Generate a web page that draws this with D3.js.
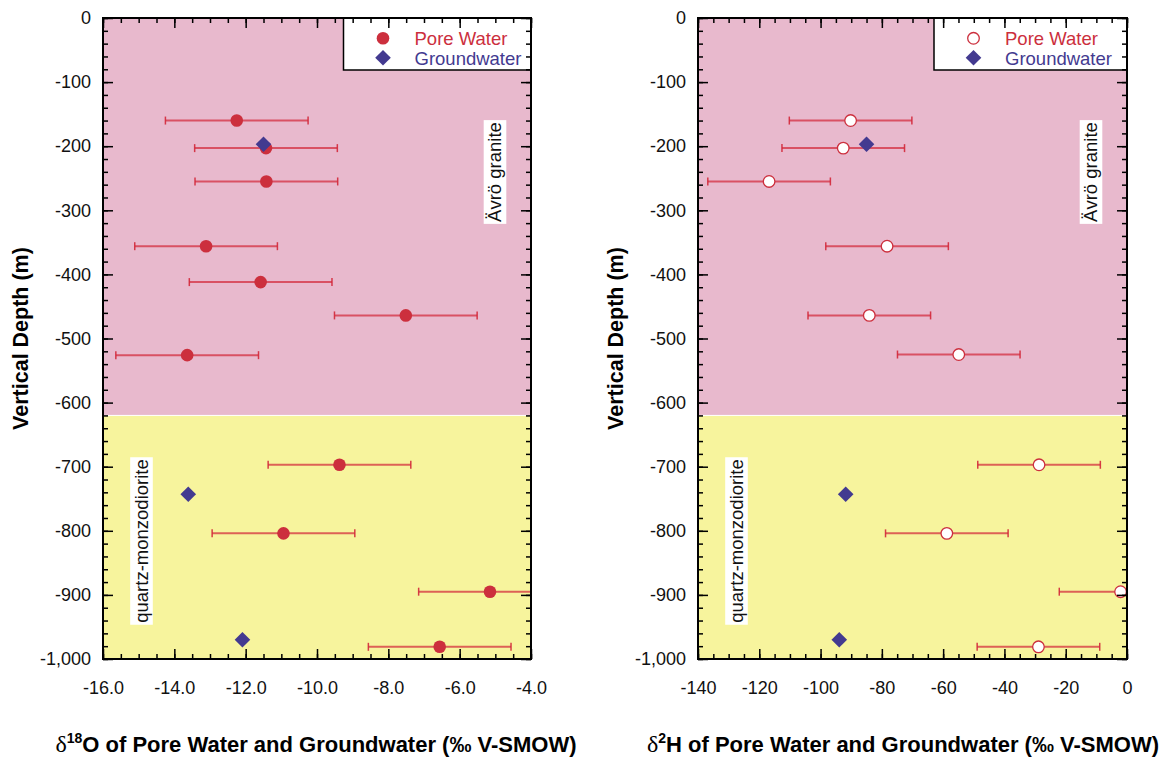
<!DOCTYPE html>
<html>
<head>
<meta charset="utf-8">
<script src="https://cdn.jsdelivr.net/npm/d3@7"></script>
<style>
  html, body { margin: 0; padding: 0; background: #fff; }
  svg { display: block; font-family: "Liberation Sans", Arial, Helvetica, sans-serif; }
</style>
</head>
<body>
<svg id="chart" width="1164" height="758"></svg>
<script>
// ---- data -------------------------------------------------------------
// Pore water, δ18O (‰ V-SMOW), depth in metres
const poreDepthO = [-160, -203, -255, -356, -412, -464, -526, -697, -804, -895, -981];
const poreO      = [-12.25, -11.43, -11.42, -13.11, -11.58, -7.51, -13.64, -9.37, -10.94, -5.15, -6.56];
const poreErrO   = 2.0;

// Pore water, δ2H (‰ V-SMOW)
const poreDepthH = [-160, -203, -255, -356, -464, -525, -697, -804, -895, -981];
const poreH      = [-90.2, -92.6, -116.8, -78.3, -84.1, -54.9, -28.7, -58.8, -2.1, -28.9];
const poreErrH   = 20;

// Groundwater
const gwDepth = [-197, -743, -970];
const gwO     = [-11.5, -13.61, -12.09];
const gwH     = [-85, -91.8, -93.9];

// Rock units
const zoneNames  = ["Ävrö granite", "quartz-monzodiorite"];
const zoneTop    = [0, -620];
const zoneBottom = [-620, -1000];

// Axis ticks
const depthTicks      = [0, -100, -200, -300, -400, -500, -600, -700, -800, -900, -1000];
const depthMinorTicks = d3.range(0, -1001, -20);
const oTicks      = [-16, -14, -12, -10, -8, -6, -4];
const oMinorTicks = d3.range(-16, -3.99, 0.5);
const hTicks      = [-140, -120, -100, -80, -60, -40, -20, 0];
const hMinorTicks = d3.range(-140, 0.01, 5);

const legendLabels = ["Pore Water", "Groundwater"];

// ---- styles -----------------------------------------------------------
const PINK = "#e8b9cd", YELLOW = "#f7f49d";
const RED = "#cc2f3d", BLUE = "#433a90";
const zoneColors = [PINK, YELLOW];
const FONT = "Liberation Sans, Arial, Helvetica, sans-serif";

const loc = d3.formatLocale({decimal: ".", thousands: ",", grouping: [3], currency: ["", ""], minus: "-"});
const fmtDepth = loc.format(",");

const svg = d3.select("#chart");
const plotTop = 18, plotBottom = 659;
const y = d3.scaleLinear().domain([-1000, 0]).range([plotBottom, plotTop]);

function panel(opts) {
  const x = d3.scaleLinear().domain(opts.domain).range([opts.left, opts.right]);
  const g = svg.append("g");
  const id = "clip" + opts.key;

  g.append("clipPath").attr("id", id).append("rect")
    .attr("x", opts.left).attr("y", plotTop)
    .attr("width", opts.right - opts.left).attr("height", plotBottom - plotTop);

  // rock unit bands
  zoneNames.forEach((n, i) => {
    g.append("rect")
      .attr("x", opts.left).attr("width", opts.right - opts.left)
      .attr("y", y(zoneTop[i])).attr("height", y(zoneBottom[i]) - y(zoneTop[i]))
      .attr("fill", zoneColors[i]);
  });
  g.append("line")
    .attr("x1", opts.left).attr("x2", opts.right)
    .attr("y1", y(zoneTop[1])).attr("y2", y(zoneTop[1]))
    .attr("stroke", "#fff").attr("stroke-width", 1);

  // rock unit labels (rotated, on white boxes)
  const labelPos = [
    {cx: opts.right - 36, cy: 172},
    {cx: opts.left + 38.5, cy: 541}
  ];
  zoneNames.forEach((n, i) => {
    const lg = g.append("g")
      .attr("transform", `translate(${labelPos[i].cx},${labelPos[i].cy}) rotate(-90)`);
    const box = lg.append("rect").attr("fill", "#fff");
    const t = lg.append("text")
      .attr("text-anchor", "middle").attr("dy", "0.35em")
      .attr("font-size", 18.5).attr("fill", "#111").text(n);
    const bb = t.node().getBBox();
    box.attr("x", bb.x - 2).attr("y", -11.3).attr("width", bb.width + 4).attr("height", 22.6);
  });

  // error bars
  const eb = g.append("g").attr("clip-path", `url(#${id})`)
    .attr("stroke", "#d3283a").attr("stroke-opacity", 0.72);
  opts.poreVal.forEach((v, i) => {
    const yy = y(opts.poreDepth[i]);
    eb.append("line")
      .attr("x1", x(v - opts.err)).attr("x2", x(v + opts.err))
      .attr("y1", yy).attr("y2", yy).attr("stroke-width", 2);
    [v - opts.err, v + opts.err].forEach(e => {
      eb.append("line")
        .attr("x1", x(e)).attr("x2", x(e))
        .attr("y1", yy - 4).attr("y2", yy + 4)
        .attr("stroke-width", 1.5).attr("stroke-opacity", 0.9);
    });
  });

  // pore water markers
  g.append("g").selectAll("circle")
    .data(opts.poreVal.map((v, i) => [v, opts.poreDepth[i]]))
    .join("circle")
    .attr("cx", d => x(d[0])).attr("cy", d => y(d[1]))
    .attr("r", opts.open ? 5.8 : 6.3)
    .attr("fill", opts.open ? "#fff" : RED)
    .attr("stroke", RED).attr("stroke-width", opts.open ? 1.3 : 0);

  // groundwater markers
  const diamond = d3.symbol().type(d3.symbolDiamond2).size(155);
  g.append("g").selectAll("path")
    .data(opts.gwVal.map((v, i) => [v, gwDepth[i]]))
    .join("path")
    .attr("d", diamond)
    .attr("transform", d => `translate(${x(d[0])},${y(d[1])})`)
    .attr("fill", BLUE);

  // legend
  const lx = opts.legendLeft;
  const leg = g.append("g");
  leg.append("rect")
    .attr("x", lx).attr("y", plotTop).attr("width", opts.right - lx).attr("height", 52)
    .attr("fill", "#fff").attr("stroke", "#000").attr("stroke-width", 1.5);
  leg.append("circle")
    .attr("cx", lx + 39.5).attr("cy", 38.3)
    .attr("r", opts.open ? 5.8 : 6.3)
    .attr("fill", opts.open ? "#fff" : RED)
    .attr("stroke", RED).attr("stroke-width", opts.open ? 1.3 : 0);
  leg.append("path").attr("d", diamond)
    .attr("transform", `translate(${lx + 39.5},57.7)`).attr("fill", BLUE);
  leg.append("text").attr("x", lx + 71).attr("y", 44.8)
    .attr("font-size", 18.5).attr("fill", RED).text(legendLabels[0]);
  leg.append("text").attr("x", lx + 71).attr("y", 64.5)
    .attr("font-size", 18.5).attr("fill", BLUE).text(legendLabels[1]);

  // axes: ticks point inward on all four sides
  const axG = g.append("g");
  axG.append("g").attr("transform", `translate(${opts.left},0)`)
    .call(d3.axisLeft(y).tickValues(depthTicks).tickFormat(fmtDepth)
      .tickSizeInner(-10).tickSizeOuter(0).tickPadding(12));
  axG.append("g").attr("transform", `translate(${opts.left},0)`)
    .call(d3.axisLeft(y).tickValues(depthMinorTicks).tickFormat("")
      .tickSizeInner(-5).tickSizeOuter(0));
  axG.append("g").attr("transform", `translate(${opts.right},0)`)
    .call(d3.axisRight(y).tickValues(depthTicks).tickFormat("")
      .tickSizeInner(-10).tickSizeOuter(0));
  axG.append("g").attr("transform", `translate(${opts.right},0)`)
    .call(d3.axisRight(y).tickValues(depthMinorTicks).tickFormat("")
      .tickSizeInner(-5).tickSizeOuter(0));
  axG.append("g").attr("transform", `translate(0,${plotBottom})`)
    .call(d3.axisBottom(x).tickValues(opts.ticks).tickFormat(opts.fmt)
      .tickSizeInner(-10).tickSizeOuter(0).tickPadding(22));
  axG.append("g").attr("transform", `translate(0,${plotBottom})`)
    .call(d3.axisBottom(x).tickValues(opts.minor).tickFormat("")
      .tickSizeInner(-5).tickSizeOuter(0));
  axG.append("g").attr("transform", `translate(0,${plotTop})`)
    .call(d3.axisTop(x).tickValues(opts.ticks).tickFormat("")
      .tickSizeInner(-10).tickSizeOuter(0));
  axG.append("g").attr("transform", `translate(0,${plotTop})`)
    .call(d3.axisTop(x).tickValues(opts.minor).tickFormat("")
      .tickSizeInner(-5).tickSizeOuter(0));
  axG.selectAll(":scope > g").attr("font-size", 18).attr("font-family", FONT);
  axG.selectAll(".domain").remove();
  axG.selectAll(".tick line").attr("stroke", "#000").attr("stroke-width", 1.5);
  axG.selectAll(".tick text").attr("fill", "#111");

  g.append("rect")
    .attr("x", opts.left).attr("y", plotTop)
    .attr("width", opts.right - opts.left).attr("height", plotBottom - plotTop)
    .attr("fill", "none").attr("stroke", "#000").attr("stroke-width", 2);

  // axis titles
  svg.append("text")
    .attr("transform", `translate(${opts.left - 75.5},${(plotTop + plotBottom) / 2}) rotate(-90)`)
    .attr("text-anchor", "middle").attr("font-size", 21.5).attr("font-weight", "bold")
    .attr("fill", "#000").text("Vertical Depth (m)");

  const xt = svg.append("text")
    .attr("x", opts.titleX).attr("y", 752)
    .attr("text-anchor", "middle").attr("font-size", 22).attr("font-weight", "bold")
    .attr("fill", "#000");
  xt.append("tspan").attr("font-family", "Liberation Serif, Times New Roman, serif")
    .attr("font-weight", "normal").attr("font-size", 24).text("δ");
  xt.append("tspan").attr("font-size", 14).attr("dy", -9).text(opts.iso);
  xt.append("tspan").attr("dy", 9).text(opts.titleRest);
}

panel({
  key: "O", left: 103, right: 531, domain: [-16, -4],
  ticks: oTicks, minor: oMinorTicks, fmt: loc.format(".1f"),
  poreVal: poreO, poreDepth: poreDepthO, err: poreErrO, gwVal: gwO,
  open: false, legendLeft: 343.5,
  titleX: 316, iso: "18", titleRest: "O of Pore Water and Groundwater (‰ V-SMOW)"
});

panel({
  key: "H", left: 698, right: 1127, domain: [-140, 0],
  ticks: hTicks, minor: hMinorTicks, fmt: loc.format("d"),
  poreVal: poreH, poreDepth: poreDepthH, err: poreErrH, gwVal: gwH,
  open: true, legendLeft: 934,
  titleX: 903, iso: "2", titleRest: "H of Pore Water and Groundwater (‰ V-SMOW)"
});
</script>
</body>
</html>
